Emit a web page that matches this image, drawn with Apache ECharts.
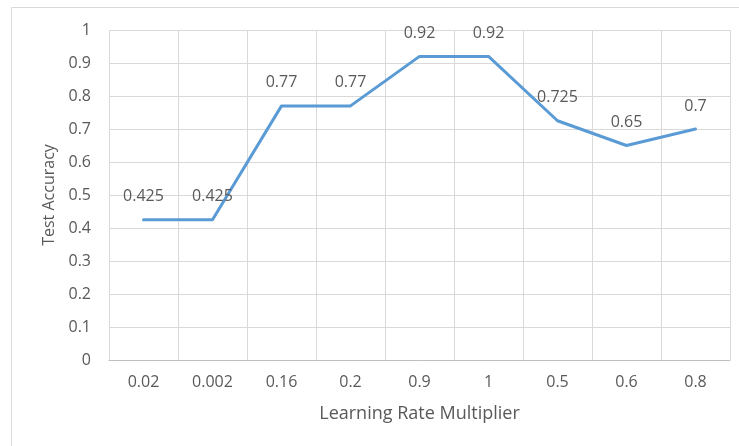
<!DOCTYPE html>
<html>
<head>
<meta charset="utf-8">
<script src="https://cdn.jsdelivr.net/npm/echarts@6/dist/echarts.min.js"></script>
<style>
  html, body { margin: 0; padding: 0; background: #fff; }
  #chart { width: 739px; height: 446px; }
</style>
</head>
<body>
<div id="chart"></div>
<script>
// Learning-rate multipliers tried, in run order
const multipliers = ['0.02', '0.002', '0.16', '0.2', '0.9', '1', '0.5', '0.6', '0.8'];
// Test accuracy reached for each multiplier
const testAccuracy = [0.425, 0.425, 0.77, 0.77, 0.92, 0.92, 0.725, 0.65, 0.7];

const textColor = '#595959';
const gridColor = '#d9d9d9';
const fontFamily = '"Open Sans", sans-serif';

const chart = echarts.init(document.getElementById('chart'), null, { renderer: 'canvas' });

chart.setOption({
  animation: false,
  backgroundColor: '#ffffff',
  graphic: [{
    type: 'rect',
    shape: { x: 11.5, y: 7.5, width: 760, height: 460 },
    style: { fill: 'none', stroke: gridColor, lineWidth: 1 },
    silent: true,
    z: -1
  }],
  grid: { left: 109, right: 9, top: 30, bottom: 86, containLabel: false },
  xAxis: {
    type: 'category',
    data: multipliers,
    boundaryGap: true,
    name: 'Learning Rate Multiplier',
    nameLocation: 'middle',
    nameGap: 45,
    nameTextStyle: { color: textColor, fontSize: 18, fontFamily: fontFamily },
    axisLine: { show: true, lineStyle: { color: '#bfbfbf', width: 1 } },
    axisTick: { show: false },
    axisLabel: { color: textColor, fontSize: 16, fontFamily: fontFamily, margin: 14 },
    splitLine: { show: true, lineStyle: { color: gridColor, width: 1 } }
  },
  yAxis: {
    type: 'value',
    min: 0,
    max: 1,
    interval: 0.1,
    name: 'Test Accuracy',
    nameLocation: 'middle',
    nameGap: 48,
    nameTextStyle: { color: textColor, fontSize: 16, fontFamily: fontFamily },
    axisLine: { show: false },
    axisTick: { show: false },
    axisLabel: {
      color: textColor, fontSize: 16, fontFamily: fontFamily, margin: 18,
      formatter: v => String(Math.round(v * 10) / 10)
    },
    splitLine: { show: true, lineStyle: { color: gridColor, width: 1 } }
  },
  series: [{
    type: 'line',
    data: testAccuracy,
    symbol: 'circle',
    symbolSize: 0.1,
    showSymbol: true,
    lineStyle: { color: '#5b9bd5', width: 3, cap: 'round', join: 'round' },
    itemStyle: { color: '#5b9bd5' },
    label: {
      show: true,
      position: 'top',
      distance: 15,
      color: textColor,
      fontSize: 16,
      fontFamily: fontFamily,
      formatter: p => String(p.value)
    }
  }]
});
</script>
</body>
</html>
